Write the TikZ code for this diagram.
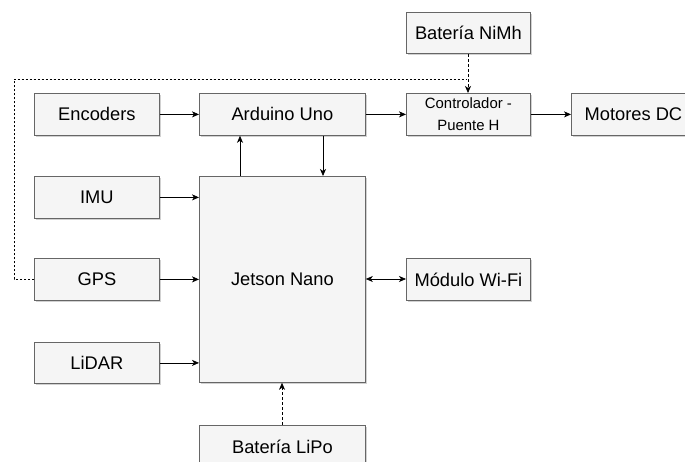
\documentclass[tikz,border=0pt]{standalone}
\usepackage{fontspec}
\setmainfont{Liberation Sans}
\usetikzlibrary{arrows.meta,shadows}
\definecolor{boxfill}{HTML}{F5F5F5}
\definecolor{boxline}{HTML}{666666}
\begin{document}
\begin{tikzpicture}[x=1pt,y=-1pt,
  blk/.style={draw=boxline,fill=boxfill,line width=0.8pt,anchor=north west,inner sep=0pt,
    drop shadow={shadow xshift=1.8pt,shadow yshift=-1.8pt,fill=black!30,opacity=0.6},
    font=\fontsize{18.3}{20}\selectfont},
  conn/.style={line width=0.7pt,-{Stealth[length=7pt,width=6pt,inset=2pt]}},
  dconn/.style={conn,dash pattern=on 3pt off 2pt}]
\useasboundingbox (0,0) rectangle (685,462);
\node[blk,minimum width=124pt,minimum height=41pt] (nimh) at (406,12) {Batería NiMh};
\node[blk,minimum width=125pt,minimum height=42pt] (enc) at (34,93) {Encoders};
\node[blk,minimum width=166pt,minimum height=42pt] (ard) at (199,93) {Arduino Uno};
\node[blk,minimum width=124pt,minimum height=42pt,align=center,font=\fontsize{14.9}{22}\selectfont] (ctrl) at (406,93) {Controlador -\\Puente H};
\node[blk,minimum width=124pt,minimum height=42pt] (mot) at (571,93) {Motores DC};
\node[blk,minimum width=125pt,minimum height=42pt] (imu) at (34,176) {IMU};
\node[blk,minimum width=166pt,minimum height=206pt] (jet) at (199,176) {Jetson Nano};
\node[blk,minimum width=125pt,minimum height=42pt] (gps) at (34,258) {GPS};
\node[blk,minimum width=124pt,minimum height=42pt] (wifi) at (406,258) {Módulo Wi-Fi};
\node[blk,minimum width=125pt,minimum height=41pt] (lidar) at (34,342) {LiDAR};
\node[blk,minimum width=166pt,minimum height=42pt] (lipo) at (199,425) {Batería LiPo};
% connectors
\draw[conn] (enc.east) -- (ard.west);
\draw[conn] (ard.east) -- (ctrl.west);
\draw[conn] (ctrl.east) -- (mot.west);
\draw[conn] (jet.north -| 240,0) -- (ard.south -| 240,0);
\draw[conn] (ard.south -| 323,0) -- (jet.north -| 323,0);
\draw[conn] (imu.east) -- (imu.east -| jet.west);
\draw[conn] (gps.east) -- (gps.east -| jet.west);
\draw[conn] (lidar.east) -- (lidar.east -| jet.west);
\draw[line width=0.7pt,{Stealth[length=7pt,width=6pt,inset=2pt]}-{Stealth[length=7pt,width=6pt,inset=2pt]}] (wifi.west |- 0,279) -- (jet.east |- 0,279);
\draw[dconn] (lipo.north -| 282,0) -- (jet.south -| 282,0);
\draw[dconn] (nimh.south -| 468,0) -- (ctrl.north -| 468,0);
\coordinate (c1) at (14,79);
\coordinate (c2) at (466,79);
\draw[line width=0.7pt,dash pattern=on 2pt off 2pt] (gps.west) -- (gps.west -| c1) -- (c1) -- (c2);
\end{tikzpicture}
\end{document}
